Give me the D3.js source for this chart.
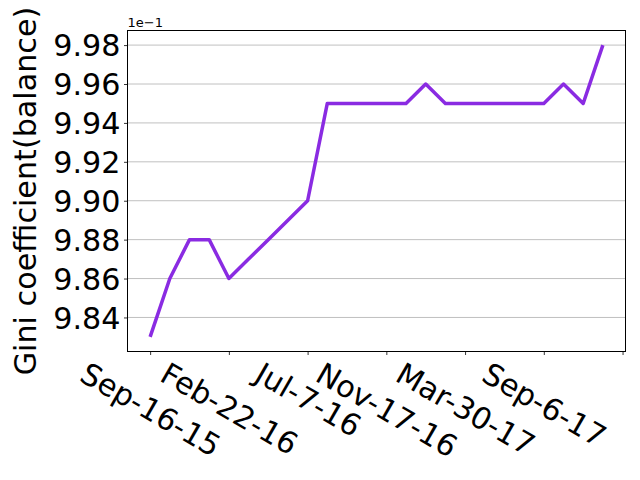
<!DOCTYPE html>
<html>
<head>
<meta charset="utf-8">
<script src="https://cdn.jsdelivr.net/npm/d3@7"></script>
<style>
  html, body { margin: 0; padding: 0; background: #fff; }
  svg { display: block; font-family: "DejaVu Sans", sans-serif; }
</style>
</head>
<body>
<svg id="chart" width="640" height="480"></svg>
<script>
// ---- data (Gini coefficient of balance, actual values) ----
const giniValues = [0.9830, 0.9860, 0.9880, 0.9880, 0.9860, 0.9870, 0.9880, 0.9890,
                    0.9900, 0.9950, 0.9950, 0.9950, 0.9950, 0.9950, 0.9960, 0.9950,
                    0.9950, 0.9950, 0.9950, 0.9950, 0.9950, 0.9960, 0.9950, 0.9980];
const xTickPositions = [0, 4, 8, 12, 16, 20, 24];
const xTickLabels = ["Sep-16-15", "Feb-22-16", "Jul-7-16", "Nov-17-16", "Mar-30-17", "Sep-6-17", ""];
const yTickValues = [0.984, 0.986, 0.988, 0.990, 0.992, 0.994, 0.996, 0.998];
const yLabel = "Gini coefficient(balance)";
const offsetLabel = "1e\u22121";
const lineColor = "#8a2be2";

// ---- layout ----
const svg = d3.select("#chart");
const L = 127.5, R = 625.5, T = 30.5, B = 351.5;
const FS = 30.2;

const n = giniValues.length;
const xPad = (n - 1) * 0.05;
const x = d3.scaleLinear().domain([-xPad, n - 1 + xPad]).range([L, R]);
const yMin = d3.min(giniValues), yMax = d3.max(giniValues);
const yPad = (yMax - yMin) * 0.05;
const y = d3.scaleLinear().domain([yMin - yPad, yMax + yPad]).range([B, T]);

// grid
svg.append("g")
  .selectAll("line")
  .data(yTickValues)
  .join("line")
  .attr("x1", L).attr("x2", R)
  .attr("y1", d => y(d)).attr("y2", d => y(d))
  .attr("stroke", "#b0b0b0").attr("stroke-width", 0.8);

// line
const line = d3.line().x((d, i) => x(i)).y(d => y(d));
svg.append("path")
  .datum(giniValues)
  .attr("d", line)
  .attr("fill", "none")
  .attr("stroke", lineColor)
  .attr("stroke-width", 3.5)
  .attr("stroke-linejoin", "round");

// y axis
const yAxis = d3.axisLeft(y).tickValues(yTickValues)
  .tickFormat(d => (d * 10).toFixed(2)).tickSize(3.5).tickPadding(3.5);
const gy = svg.append("g").attr("transform", `translate(${L},0)`).call(yAxis);
gy.select(".domain").remove();
gy.selectAll("line").attr("stroke", "#000").attr("stroke-width", 0.8);
gy.selectAll("text").attr("font-size", FS + "px").attr("fill", "#000")
  .attr("font-family", "DejaVu Sans").attr("dy", "0.36em");

// x axis
const xAxis = d3.axisBottom(x).tickValues(xTickPositions)
  .tickFormat((d, i) => xTickLabels[i]).tickSize(3.5).tickPadding(3.5);
const gx = svg.append("g").attr("transform", `translate(0,${B})`).call(xAxis);
gx.select(".domain").remove();
gx.selectAll("line").attr("stroke", "#000").attr("stroke-width", 0.8);
gx.selectAll("text").each(function(d, i) {
  const t = d3.select(this);
  t.attr("font-size", FS + "px").attr("fill", "#000").attr("font-family", "DejaVu Sans")
   .attr("text-anchor", "middle").attr("dy", null).attr("y", null)
   .attr("dominant-baseline", "central");
  const w = this.getComputedTextLength();
  const h = FS * 1.17;
  const a = Math.PI / 6;
  const bh = w * Math.sin(a) + h * Math.cos(a);
  const cy = 4 + bh / 2;
  t.attr("transform", `translate(0,${cy}) rotate(30)`);
});

// frame
svg.append("rect")
  .attr("x", L).attr("y", T).attr("width", R - L).attr("height", B - T)
  .attr("fill", "none").attr("stroke", "#000").attr("stroke-width", 1);

// offset text
svg.append("text")
  .attr("x", L).attr("y", 26.5)
  .attr("font-size", "13px").attr("fill", "#000")
  .text(offsetLabel);

// y label
svg.append("text")
  .attr("transform", `translate(36,${(T + B) / 2}) rotate(-90)`)
  .attr("text-anchor", "middle")
  .attr("font-size", FS + "px").attr("fill", "#000")
  .text(yLabel);
</script>
</body>
</html>
